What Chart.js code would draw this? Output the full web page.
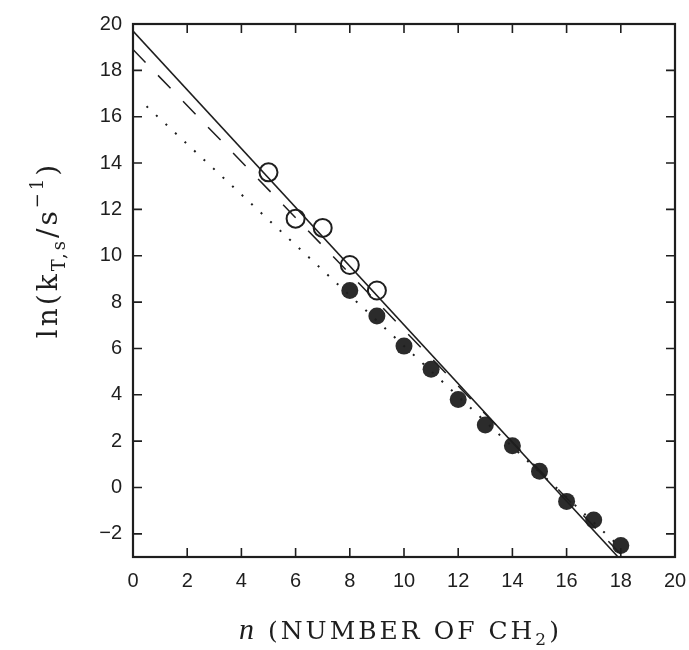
<!DOCTYPE html>
<html>
<head>
<meta charset="utf-8">
<script src="https://cdn.jsdelivr.net/npm/chart.js@4/dist/chart.umd.min.js"></script>
<style>
  html, body { margin: 0; padding: 0; background: #fff; }
  #wrap { width: 689px; height: 650px; }
</style>
</head>
<body>
<div id="wrap"><canvas id="chart" width="689" height="650"></canvas></div>
<script>
// ln(k) vs chain length n

const openN      = [5, 6, 7, 8, 9];
const openLnK    = [13.6, 11.6, 11.2, 9.6, 8.5];

const filledN    = [8, 9, 10, 11, 12, 13, 14, 15, 16, 17, 18];
const filledLnK  = [8.5, 7.4, 6.1, 5.1, 3.8, 2.7, 1.8, 0.7, -0.6, -1.4, -2.5];

// fitted lines (end points)
const solidN     = [0, 17.9];
const solidLnK   = [19.7, -3.0];
const dashedN    = [0, 18.1];
const dashedLnK  = [18.9, -3.0];
const dottedN    = [0.5, 18.0];
const dottedLnK  = [16.45, -2.6];

const xTicks = [0, 2, 4, 6, 8, 10, 12, 14, 16, 18, 20];
const yTicks = [-2, 0, 2, 4, 6, 8, 10, 12, 14, 16, 18, 20];

const INK = '#1e1e1e';
const SERIF = '"DejaVu Serif", "Liberation Serif", serif';
const toPts = (xs, ys) => xs.map((x, i) => ({ x: x, y: ys[i] }));

function lineSet(xs, ys, dash, width) {
  return {
    data: toPts(xs, ys),
    showLine: true,
    borderColor: INK,
    borderWidth: width,
    borderDash: dash,
    pointRadius: 0,
    fill: false,
  };
}

// draws a run of text pieces (font, vertical offset) starting at x
function drawRun(ctx, parts, x, y, spacing) {
  ctx.letterSpacing = spacing + 'px';
  parts.forEach(p => {
    ctx.font = p.f;
    ctx.fillText(p.t, x, y + p.dy);
    x += ctx.measureText(p.t).width;
  });
  return x;
}

// inward ticks on all four sides plus the frame
const frameTicks = {
  id: 'frameTicks',
  afterDatasetsDraw(chart) {
    const { ctx, chartArea: a, scales: { x, y } } = chart;
    const len = 9;
    ctx.save();
    ctx.strokeStyle = INK;
    ctx.lineWidth = 1.6;
    xTicks.slice(1, -1).forEach(v => {
      const px = x.getPixelForValue(v);
      ctx.beginPath();
      ctx.moveTo(px, a.bottom); ctx.lineTo(px, a.bottom - len);
      ctx.moveTo(px, a.top);    ctx.lineTo(px, a.top + len);
      ctx.stroke();
    });
    yTicks.slice(0, -1).forEach(v => {
      const py = y.getPixelForValue(v);
      ctx.beginPath();
      ctx.moveTo(a.left, py);  ctx.lineTo(a.left + len, py);
      ctx.moveTo(a.right, py); ctx.lineTo(a.right - len, py);
      ctx.stroke();
    });
    ctx.lineWidth = 2.2;
    ctx.strokeRect(a.left, a.top, a.right - a.left, a.bottom - a.top);
    ctx.restore();
  }
};

// axis titles with italic n, subscripts and superscript
const axisTitles = {
  id: 'axisTitles',
  afterDraw(chart) {
    const { ctx } = chart;
    ctx.save();
    ctx.fillStyle = INK;
    ctx.textBaseline = 'alphabetic';

    // x title
    drawRun(ctx, [
      { t: 'n', f: 'italic 30px "Liberation Serif", serif', dy: 0 },
      { t: ' (NUMBER OF CH', f: '25px ' + SERIF, dy: 0 },
      { t: '2', f: '17px ' + SERIF, dy: 6 },
      { t: ')', f: '25px ' + SERIF, dy: 0 },
    ], 239, 639, 3);

    // y title, rotated
    const yParts = [
      { t: 'ln(k', f: '28px ' + SERIF, dy: 0 },
      { t: 'T,s', f: '18px ' + SERIF, dy: 8 },
      { t: '/s', f: '28px ' + SERIF, dy: 0 },
      { t: '\u22121', f: '18px ' + SERIF, dy: -14 },
      { t: ')', f: '28px ' + SERIF, dy: 0 },
    ];
    ctx.letterSpacing = '3px';
    let total = 0;
    yParts.forEach(p => { ctx.font = p.f; total += ctx.measureText(p.t).width; });
    ctx.translate(57, 250);
    ctx.rotate(-Math.PI / 2);
    drawRun(ctx, yParts, -total / 2, 0, 3);
    ctx.restore();
  }
};

new Chart(document.getElementById('chart'), {
  type: 'scatter',
  data: {
    datasets: [
      lineSet(solidN, solidLnK, [], 1.6),
      lineSet(dashedN, dashedLnK, [18, 18], 1.5),
      lineSet(dottedN, dottedLnK, [2, 11], 2),
      {
        data: toPts(openN, openLnK),
        pointRadius: 9,
        pointBorderWidth: 2,
        pointBorderColor: INK,
        pointBackgroundColor: 'rgba(0,0,0,0)',
      },
      {
        data: toPts(filledN, filledLnK),
        pointRadius: 8.5,
        pointBorderWidth: 0,
        pointBackgroundColor: '#2b2b2b',
      },
    ],
  },
  options: {
    responsive: false,
    animation: false,
    layout: { padding: { top: 24, right: 14, left: 0, bottom: 0 } },
    plugins: { legend: { display: false }, tooltip: { enabled: false } },
    scales: {
      x: {
        type: 'linear',
        min: 0, max: 20,
        afterBuildTicks: s => { s.ticks = xTicks.map(v => ({ value: v })); },
        afterFit: s => { s.height = 93; s.paddingLeft = 0; s.paddingRight = 0; },
        grid: { display: false, drawTicks: false },
        border: { display: false },
        ticks: { color: INK, padding: 12, font: { family: '"Liberation Sans", Arial, sans-serif', size: 20 } },
      },
      y: {
        type: 'linear',
        min: -3, max: 20,
        afterBuildTicks: s => { s.ticks = yTicks.map(v => ({ value: v })); },
        afterFit: s => { s.width = 133; s.paddingTop = 0; s.paddingBottom = 0; },
        grid: { display: false, drawTicks: false },
        border: { display: false },
        ticks: {
          color: INK, padding: 11,
          font: { family: '"Liberation Sans", Arial, sans-serif', size: 20 },
          callback: v => (v < 0 ? '\u2212' + Math.abs(v) : String(v)),
        },
      },
    },
  },
  plugins: [frameTicks, axisTitles],
});
</script>
</body>
</html>
